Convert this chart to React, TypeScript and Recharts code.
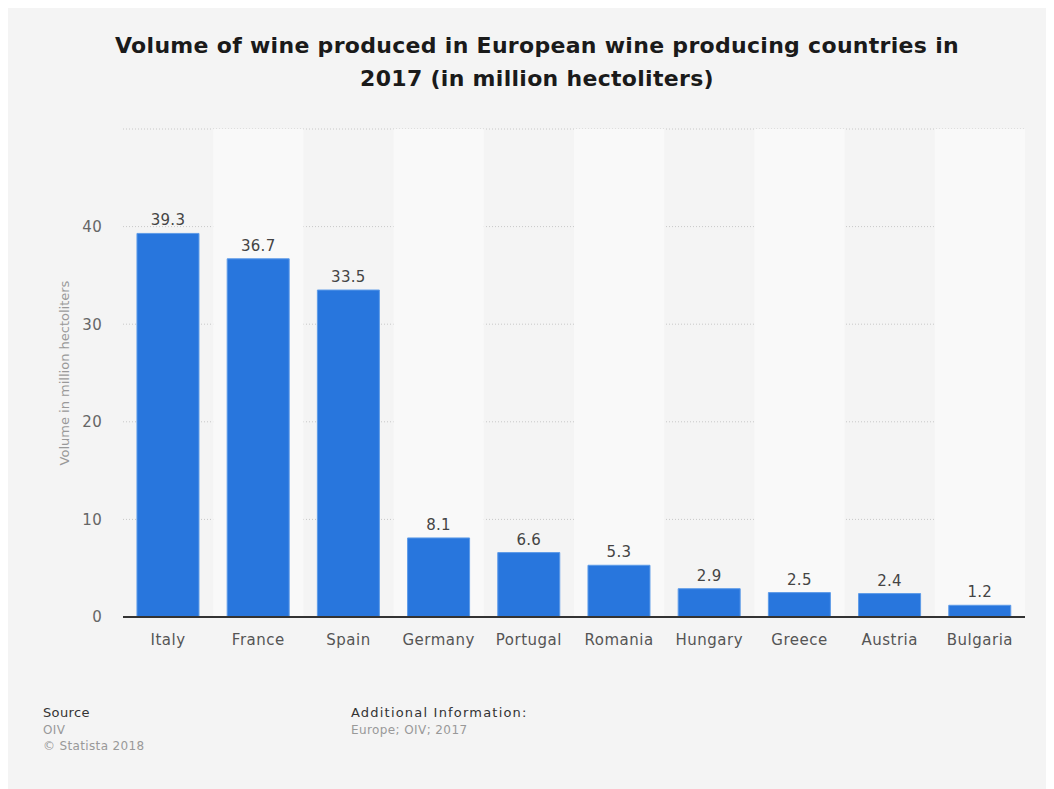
import React from 'react';
import {
  BarChart, Bar, XAxis, YAxis, CartesianGrid, ReferenceArea, LabelList, Label,
} from 'recharts';

const countries = ['Italy', 'France', 'Spain', 'Germany', 'Portugal', 'Romania', 'Hungary', 'Greece', 'Austria', 'Bulgaria'];
const volumes = [39.3, 36.7, 33.5, 8.1, 6.6, 5.3, 2.9, 2.5, 2.4, 1.2];
const yTicks = [0, 10, 20, 30, 40, 50];
const yTickLabels = ['0', '10', '20', '30', '40', ''];

const data = countries.map((name, i) => ({ name, value: volumes[i] }));

const FONT = '"DejaVu Sans", sans-serif';

const YLabel = (props: any) => {
  const { viewBox } = props;
  const cx = 64;
  const cy = viewBox.y + viewBox.height / 2;
  return (
    <text
      x={cx}
      y={cy}
      transform={`rotate(-90 ${cx} ${cy})`}
      textAnchor="middle"
      dominantBaseline="central"
      fill="#999"
      fontSize={13}
      fontFamily={FONT}
    >
      Volume in million hectoliters
    </text>
  );
};

export default function App() {
  return (
    <div style={{ position: 'relative', width: 1046, height: 781, background: '#f4f4f4', fontFamily: FONT }}>
      <div
        style={{
          position: 'absolute', top: 21, left: 0, width: 1058, textAlign: 'center',
          fontSize: 22, fontWeight: 'bold', color: '#1a1a1a', lineHeight: '33px', letterSpacing: 0.3,
        }}
      >
        Volume of wine produced in European wine producing countries in<br />
        2017 (in million hectoliters)
      </div>

      <div style={{ position: 'absolute', top: -8, left: -8 }}>
        <BarChart
          width={1054}
          height={789}
          data={data}
          margin={{ top: 129, right: 29, bottom: 142, left: 0 }}
          barCategoryGap="15.5%"
        >
          {countries.map((c, i) =>
            i % 2 === 1 ? (
              <ReferenceArea key={c} x1={c} x2={c} fill="#f9f9f9" fillOpacity={1} stroke="none" />
            ) : null
          )}
          <CartesianGrid vertical={false} stroke="#c8c8c8" strokeDasharray="1 2" />
          <XAxis
            dataKey="name"
            height={30}
            tickSize={0}
            tickMargin={17}
            axisLine={{ stroke: '#333', strokeWidth: 2 }}
            tick={{ fill: '#555', fontSize: 15, fontFamily: FONT, letterSpacing: 0.5 }}
            interval={0}
          />
          <YAxis
            width={123}
            domain={[0, 50]}
            ticks={yTicks}
            tickFormatter={(v: number) => yTickLabels[yTicks.indexOf(v)]}
            tickSize={0}
            tickMargin={21}
            axisLine={false}
            tick={{ fill: '#666', fontSize: 15, fontFamily: FONT, letterSpacing: 0.3 }}
          >
            <Label content={<YLabel />} />
          </YAxis>
          <Bar dataKey="value" fill="#2876dd" stroke="#5d9be8" strokeWidth={1} isAnimationActive={false}>
            <LabelList dataKey="value" position="top" offset={8} fill="#444" fontSize={15} fontFamily={FONT} letterSpacing={0.3} />
          </Bar>
        </BarChart>
      </div>

      <div style={{ position: 'absolute', left: 35, top: 697, fontSize: 13, lineHeight: '16.5px', letterSpacing: 0.35 }}>
        <div style={{ color: '#333' }}>Source</div>
        <div style={{ color: '#999', fontSize: 12 }}>OIV</div>
        <div style={{ color: '#999', fontSize: 12 }}>© Statista 2018</div>
      </div>
      <div style={{ position: 'absolute', left: 343, top: 697, fontSize: 13, lineHeight: '16.5px' }}>
        <div style={{ color: '#333', letterSpacing: 1.2 }}>Additional Information:</div>
        <div style={{ color: '#999', fontSize: 12, letterSpacing: 0.4 }}>Europe; OIV; 2017</div>
      </div>
    </div>
  );
}
